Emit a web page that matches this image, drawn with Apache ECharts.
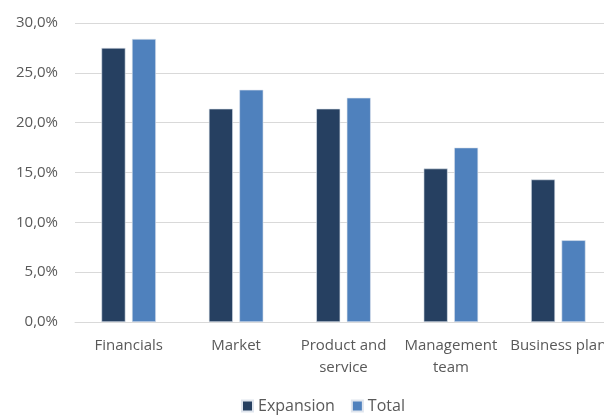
<!DOCTYPE html>
<html>
<head>
<meta charset="utf-8">
<script src="https://cdn.jsdelivr.net/npm/echarts@6/dist/echarts.min.js"></script>
<style>
  html, body { margin: 0; padding: 0; background: #fff; overflow: hidden; }
  #chart { width: 604px; height: 415px; }
</style>
</head>
<body>
<div id="chart"></div>
<script>
// Share of responses per criterion (percent)
const categories = ['Financials', 'Market', 'Product and\nservice', 'Management\nteam', 'Business plan'];
const expansion = [27.5, 21.4, 21.4, 15.4, 14.3];
const total = [28.4, 23.3, 22.5, 17.5, 8.2];
const yTicks = [0, 5, 10, 15, 20, 25, 30];

const fontFamily = 'Open Sans, sans-serif';
const textColor = '#595959';

const chart = echarts.init(document.getElementById('chart'));
chart.setOption({
  animation: false,
  textStyle: { fontFamily: fontFamily },
  // plot area runs slightly past the right edge of the canvas
  grid: {
    left: 75, width: 537, top: 23, bottom: 93,
    containLabel: false,
    outerBoundsMode: 'none'
  },
  legend: {
    bottom: -4,
    left: 236,
    itemWidth: 11,
    itemHeight: 11,
    itemGap: 16,
    icon: 'rect',
    textStyle: { color: textColor, fontSize: 16, fontFamily: fontFamily },
    data: ['Expansion', 'Total']
  },
  xAxis: {
    type: 'category',
    data: categories,
    axisLine: { show: true, lineStyle: { color: '#d9d9d9', width: 1 } },
    axisTick: { show: false },
    axisLabel: {
      color: textColor,
      fontSize: 15,
      margin: 13,
      lineHeight: 22,
      interval: 0,
      fontFamily: fontFamily
    }
  },
  yAxis: {
    type: 'value',
    min: yTicks[0],
    max: yTicks[yTicks.length - 1],
    interval: 5,
    axisLine: { show: false },
    axisTick: { show: false },
    splitLine: { lineStyle: { color: '#d9d9d9', width: 1 } },
    axisLabel: {
      color: textColor,
      fontSize: 15,
      margin: 17,
      fontFamily: fontFamily,
      formatter: v => v.toFixed(1).replace('.', ',') + '%'
    }
  },
  series: [
    {
      name: 'Expansion',
      type: 'bar',
      data: expansion,
      barWidth: 24,
      barGap: '27%',
      itemStyle: { color: '#264061', borderColor: '#dfe5ee', borderWidth: 0.6 }
    },
    {
      name: 'Total',
      type: 'bar',
      data: total,
      barWidth: 24,
      itemStyle: { color: '#4f81bd', borderColor: '#dfe5ee', borderWidth: 0.6 }
    }
  ]
});
</script>
</body>
</html>
